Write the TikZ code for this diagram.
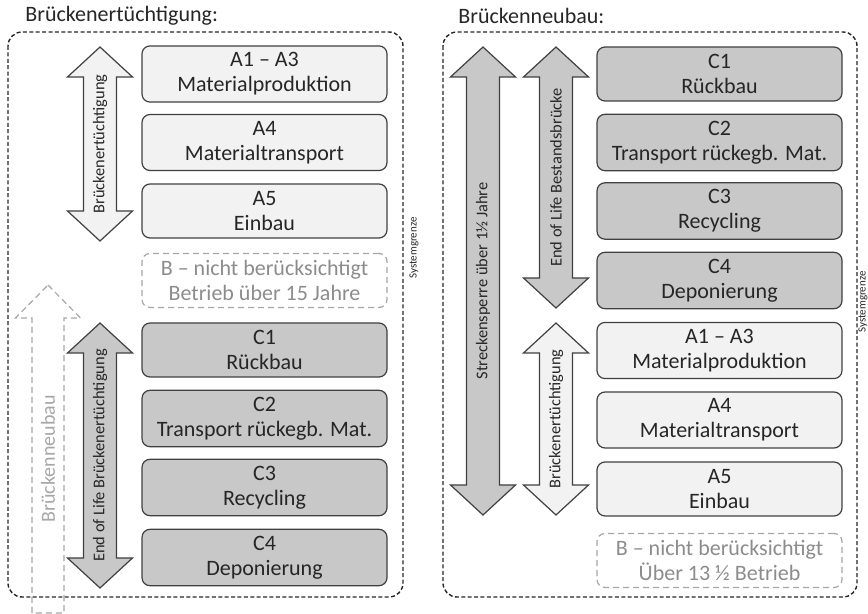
\documentclass[tikz,border=0pt]{standalone}
\usepackage{fontspec}
\setmainfont{Carlito}
\usetikzlibrary{positioning}
\definecolor{boxline}{HTML}{404040}
\definecolor{lightfill}{HTML}{F2F2F2}
\definecolor{darkfill}{HTML}{C8C8C8}
\definecolor{ghost}{HTML}{A6A6A6}
\definecolor{ghosttext}{HTML}{8C8C8C}
\definecolor{inktext}{HTML}{262626}
\tikzset{
  phase/.style={draw=boxline, line width=0.6pt, rounded corners=4pt, minimum width=122.5pt, minimum height=27pt, align=center, font=\fontsize{11}{12.5}\selectfont, text=inktext},
  lightphase/.style={phase, fill=lightfill},
  darkphase/.style={phase, fill=darkfill},
  skipphase/.style={phase, draw=ghost, dash pattern=on 3pt off 2pt, text=ghosttext},
  sysframe/.style={draw=black!85, line width=0.7pt, dash pattern=on 2pt off 1.2pt, rounded corners=7pt},
  arrowlabel/.style={rotate=90, font=\fontsize{8.2}{9}\selectfont, text=inktext},
  heading/.style={anchor=west, inner sep=0pt, font=\fontsize{11}{13}\selectfont, text=inktext},
  sysnote/.style={rotate=90, inner sep=0pt, font=\fontsize{5.5}{6}\selectfont, text=inktext}
}
\newcommand{\phasearrow}[4]{%
  \draw[boxline, fill=#1, line width=0.6pt] (#2,#3) -- ({#2+32.5},{#3+30}) -- ({#2+16.5},{#3+30}) -- ({#2+16.5},{#4-30}) -- ({#2+32.5},{#4-30}) -- (#2,#4) -- ({#2-32.5},{#4-30}) -- ({#2-16.5},{#4-30}) -- ({#2-16.5},{#3+30}) -- ({#2-32.5},{#3+30}) -- cycle;}
\begin{document}
\begin{tikzpicture}[x=0.5pt, y=-0.5pt]
\useasboundingbox (0,0) rectangle (868,614);

\node[heading] (ltitle) at (25,16) {Brückenertüchtigung:};
\node[heading] (rtitle) at (458,16) {Brückenneubau:};

\draw[sysframe] (8,32) rectangle (403,597);
\draw[sysframe] (443,32) rectangle (857,597);
\node[sysnote] (lsys) at (414,248) {Systemgrenze};
\node[sysnote] (rsys) at (863,302) {Systemgrenze};

\node[lightphase] (la13) at (264.5,74) {A1 -- A3\\Materialproduktion};
\node[lightphase] (la4) at (264.5,142.5) {A4\\Materialtransport};
\node[lightphase] (la5) at (264.5,211) {A5\\Einbau};
\node[skipphase] (lb) at (264.5,280.5) {B -- nicht berücksichtigt\\Betrieb über 15 Jahre};
\node[darkphase] (lc1) at (264.5,350) {C1\\Rückbau};
\node[darkphase] (lc2) at (264.5,418.5) {C2\\Transport rückegb. Mat.};
\node[darkphase] (lc3) at (264.5,487.5) {C3\\Recycling};
\node[darkphase] (lc4) at (264.5,557.5) {C4\\Deponierung};

\phasearrow{lightfill}{100}{47}{241}
\node[arrowlabel] (lupg) at (100,144) {Brückenertüchtigung};
\phasearrow{darkfill}{100}{323}{588}
\node[arrowlabel] (leol) at (100,455.5) {End of Life Brückenertüchtigung};
\draw[ghost, line width=0.6pt, dash pattern=on 3pt off 2pt] (48,285) -- (80.5,318) -- (64,318) -- (64,613) -- (32,613) -- (32,318) -- (15.5,318) -- cycle;
\node[rotate=90, font=\fontsize{10}{11}\selectfont, text=ghost] (lnew) at (48,459) {Brückenneubau};

\node[darkphase] (rc1) at (719.5,74) {C1\\Rückbau};
\node[darkphase] (rc2) at (719.5,142.5) {C2\\Transport rückegb. Mat.};
\node[darkphase] (rc3) at (719.5,211) {C3\\Recycling};
\node[darkphase] (rc4) at (719.5,280.5) {C4\\Deponierung};
\node[lightphase] (ra13) at (719.5,350.5) {A1 -- A3\\Materialproduktion};
\node[lightphase] (ra4) at (719.5,420) {A4\\Materialtransport};
\node[lightphase] (ra5) at (719.5,489) {A5\\Einbau};
\node[skipphase] (rb) at (719.5,560.5) {B -- nicht berücksichtigt\\Über 13 ½ Betrieb};

\phasearrow{darkfill}{483}{47}{515}
\node[arrowlabel] (rclose) at (483,281) {Streckensperre über 1½ Jahre};
\phasearrow{darkfill}{556}{47}{308}
\node[arrowlabel] (reol) at (556,177.5) {End of Life Bestandsbrücke};
\phasearrow{lightfill}{556}{323}{515}
\node[arrowlabel] (rupg) at (556,419) {Brückenertüchtigung};
\end{tikzpicture}
\end{document}
